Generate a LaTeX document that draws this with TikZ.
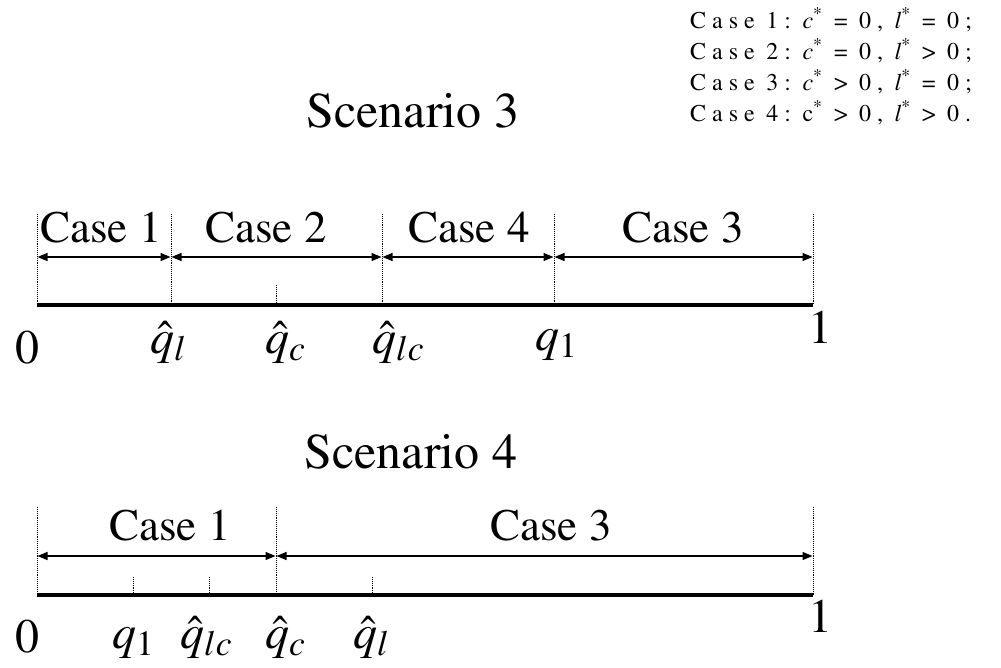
\documentclass[tikz,border=0pt]{standalone}
\usepackage[T1]{fontenc}
\usepackage{mathptmx}
\usetikzlibrary{arrows.meta}
\newcommand{\K}{\kern6pt}
\newcommand{\Sp}{\kern11.5pt}
\tikzset{
  axisline/.style={line width=4pt, line cap=butt},
  guide/.style={densely dotted, line width=0.9pt},
  span/.style={{Triangle[length=10pt,width=8pt]}-{Triangle[length=10pt,width=8pt]}, line width=1.3pt, shorten <=0.5pt, shorten >=0.5pt},
  title/.style={font=\fontsize{50}{56}\selectfont, anchor=base, inner sep=0pt},
  caselbl/.style={font=\fontsize{45}{50}\selectfont, anchor=base, inner sep=0pt},
  numlbl/.style={font=\fontsize{48}{52}\selectfont, anchor=base west, inner sep=0pt},
  lgd/.style={font=\fontsize{24}{28}\selectfont, anchor=base west, inner sep=0pt},
}
\begin{document}
\begin{tikzpicture}[x=1pt,y=-1pt]
\useasboundingbox (0,0) rectangle (1001,667);
% legend
\node[lgd] (l1) at (690,28) {C\K a\K s\K e\Sp 1\K :\Sp\textit{c}\textsuperscript{*}\Sp =\Sp 0\K ,\Sp\textit{l}\textsuperscript{*}\Sp =\Sp 0\K ;};
\node[lgd] (l2) at (690,59) {C\K a\K s\K e\Sp 2\K :\Sp\textit{c}\textsuperscript{*}\Sp =\Sp 0\K ,\Sp\textit{l}\textsuperscript{*}\Sp >\Sp 0\K ;};
\node[lgd] (l3) at (690,90) {C\K a\K s\K e\Sp 3\K :\Sp\textit{c}\textsuperscript{*}\Sp >\Sp 0\K ,\Sp\textit{l}\textsuperscript{*}\Sp =\Sp 0\K ;};
\node[lgd] (l4) at (690,121) {C\K a\K s\K e\Sp 4\K :\Sp c\textsuperscript{*}\Sp >\Sp 0\K ,\Sp\textit{l}\textsuperscript{*}\Sp >\Sp 0\K .};
% ---------- Scenario 3 ----------
\node[title] (t3) at (413,127) {Scenario 3};
\foreach \n/\x in {a/37,b/171,c/382,d/554,e/813}{
  \coordinate (s3-\n-top) at (\x,214);
  \coordinate (s3-\n-mid) at (\x,257);
  \coordinate (s3-\n-bot) at (\x,305);
  \draw[guide] (s3-\n-top) -- (s3-\n-bot);
}
\coordinate (s3-t-top) at (276,285);
\coordinate (s3-t-bot) at (276,305);
\draw[guide] (s3-t-top) -- (s3-t-bot);
\draw[axisline] (s3-a-bot) -- (s3-e-bot);
\draw[span] (s3-a-mid) -- (s3-b-mid);
\draw[span] (s3-b-mid) -- (s3-c-mid);
\draw[span] (s3-c-mid) -- (s3-d-mid);
\draw[span] (s3-d-mid) -- (s3-e-mid);
\node[caselbl] (c31) at (101,242) {Case 1};
\node[caselbl] (c32) at (266,242) {Case 2};
\node[caselbl] (c34) at (469,242) {Case 4};
\node[caselbl] (c33) at (683,242) {Case 3};
\node[numlbl] (z3) at (15,363) {0};
\node[numlbl] (ql3) at (150,353) {$\hat{q}_l$};
\node[numlbl] (qc3) at (265,353) {$\hat{q}_c$};
\node[numlbl] (qlc3) at (372,353) {$\hat{q}_{lc}$};
\node[numlbl] (q13) at (535,350) {$q_1$};
\node[numlbl] (o3) at (808,343) {1};
% ---------- Scenario 4 ----------
\node[title] (t4) at (411,468) {Scenario 4};
\foreach \n/\x in {a/37,b/276,c/813}{
  \coordinate (s4-\n-top) at (\x,507);
  \coordinate (s4-\n-mid) at (\x,556);
  \coordinate (s4-\n-bot) at (\x,595);
  \draw[guide] (s4-\n-top) -- (s4-\n-bot);
}
\foreach \n/\x in {p/133,q/209,r/372}{
  \coordinate (s4-\n-top) at (\x,577);
  \coordinate (s4-\n-bot) at (\x,595);
  \draw[guide] (s4-\n-top) -- (s4-\n-bot);
}
\draw[axisline] (s4-a-bot) -- (s4-c-bot);
\draw[span] (s4-a-mid) -- (s4-b-mid);
\draw[span] (s4-b-mid) -- (s4-c-mid);
\node[caselbl] (c41) at (170,540) {Case 1};
\node[caselbl] (c43) at (551,540) {Case 3};
\node[numlbl] (z4) at (15,652) {0};
\node[numlbl] (q14) at (112,648) {$q_1$};
\node[numlbl] (qlc4) at (180,648) {$\hat{q}_{lc}$};
\node[numlbl] (qc4) at (265,648) {$\hat{q}_c$};
\node[numlbl] (ql4) at (353,648) {$\hat{q}_l$};
\node[numlbl] (o4) at (808,632) {1};
\end{tikzpicture}
\end{document}
